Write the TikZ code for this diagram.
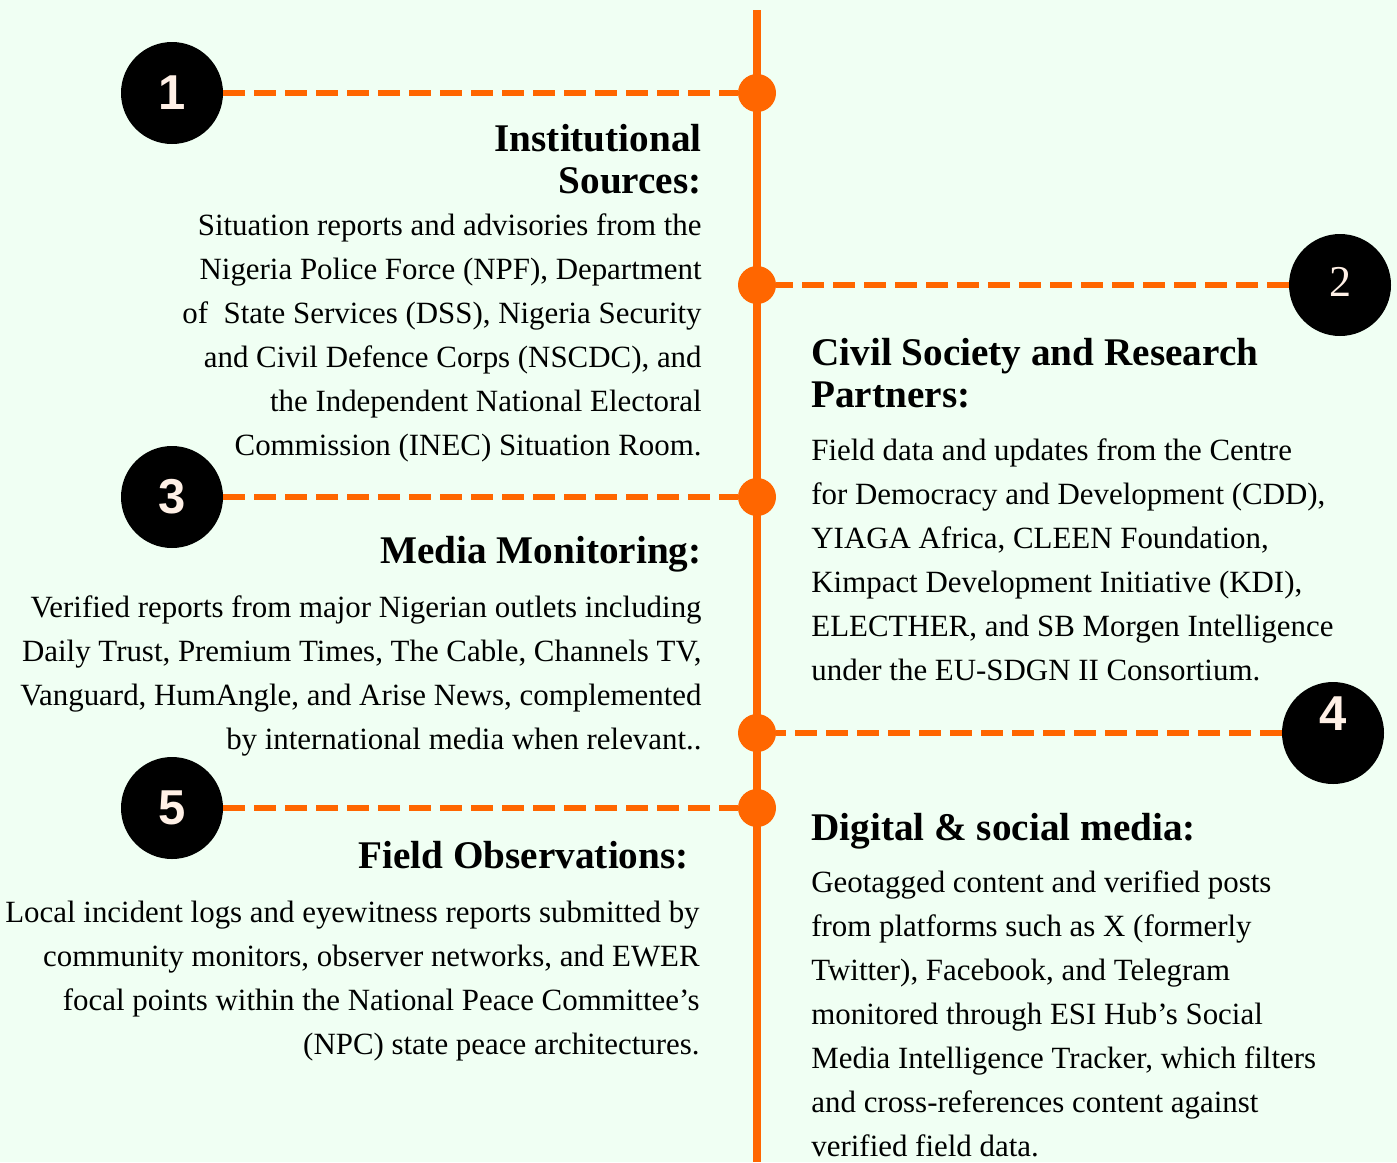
\documentclass[tikz,border=0pt]{standalone}
\usepackage{fontspec}
\setmainfont{Liberation Serif}
\newfontfamily\numfont{Liberation Sans}
\definecolor{bgmint}{HTML}{F0FFF3}
\definecolor{tlorange}{HTML}{FF6600}
\definecolor{numcream}{HTML}{FFF0E6}
\tikzset{
  tldot/.style={circle,fill=tlorange,inner sep=0pt,minimum size=19pt},
  badge/.style={circle,fill=black,inner sep=0pt,minimum size=51pt,text=numcream},
  dashlink/.style={tlorange,line width=3pt,dash pattern=on 11pt off 4.5pt},
  head/.style={font=\fontsize{19.6}{20.8}\selectfont\bfseries,inner sep=0pt},
  body/.style={font=\fontsize{15.45}{22}\selectfont,inner sep=0pt},
}
\begin{document}
\begin{tikzpicture}[x=0.5pt,y=-0.5pt]
	\fill[bgmint] (0,0) rectangle (1397,1162);
	\useasboundingbox (0,0) rectangle (1397,1162);
	% spine
	\coordinate (top) at (757,10);
	\coordinate (bottom) at (757,1162);
	\draw[tlorange,line width=4pt] (top) -- (bottom);
	% dots, badges and dashed links
	\foreach \n/\bx/\by/\txt in {1/172/93/{\numfont\bfseries\fontsize{24.5}{24.5}\selectfont 1},
							2/1340/285/{\fontsize{22}{22}\selectfont\raisebox{3pt}{2}},
							3/172/497/{\numfont\bfseries\fontsize{24.5}{24.5}\selectfont 3},
							4/1333/733/{\numfont\bfseries\fontsize{24.5}{24.5}\selectfont\raisebox{19pt}{4}},
							5/172/808/{\numfont\bfseries\fontsize{24.5}{24.5}\selectfont 5}}
	{
		\node[tldot] (d\n) at (757,\by) {};
		\node[badge] (b\n) at (\bx,\by) {\txt};
		\draw[dashlink] (b\n) -- (d\n);
	}
	% left column (anchors sit on the last baseline)
	\node[head,align=right,anchor=base east] (h1) at (702,193) {Institutional\\Sources:};
	\node[body,align=right,anchor=base east] (t1) at (702,455)
		{Situation reports and advisories from the\\
		Nigeria Police Force (NPF), Department\\
		of~ State Services (DSS), Nigeria Security\\
		and Civil Defence Corps (NSCDC), and\\
		the Independent National Electoral\\
		Commission (INEC) Situation Room.};
	\node[head,anchor=base east] (h3) at (702,563) {Media Monitoring:};
	\node[body,align=right,anchor=base east] (t3) at (702,749)
		{Verified reports from major Nigerian outlets including\\
		Daily Trust, Premium Times, The Cable, Channels TV,\\
		Vanguard, HumAngle, and Arise News, complemented\\
		by international media when relevant..};
	\node[head,anchor=base east] (h5) at (689,868) {Field Observations:};
	\node[body,align=right,anchor=base east] (t5) at (700,1054)
		{Local incident logs and eyewitness reports submitted by\\
		community monitors, observer networks, and EWER\\
		focal points within the National Peace Committee’s\\
		(NPC) state peace architectures.};
	% right column
	\node[head,align=left,anchor=base west] (h2) at (811,407) {Civil Society and Research\\Partners:};
	\node[body,align=left,anchor=base west] (t2) at (811,680)
		{Field data and updates from the Centre\\
		for Democracy and Development (CDD),\\
		YIAGA Africa, CLEEN Foundation,\\
		Kimpact Development Initiative (KDI),\\
		ELECTHER, and SB Morgen Intelligence\\
		under the EU-SDGN II Consortium.};
	\node[head,anchor=base west] (h4) at (811,840) {Digital \& social media:};
	\node[body,align=left,anchor=base west] (t4) at (811,1156)
		{Geotagged content and verified posts\\
		from platforms such as X (formerly\\
		Twitter), Facebook, and Telegram\\
		monitored through ESI Hub's Social\\
		Media Intelligence Tracker, which filters\\
		and cross-references content against\\
		verified field data.};
\end{tikzpicture}
\end{document}
